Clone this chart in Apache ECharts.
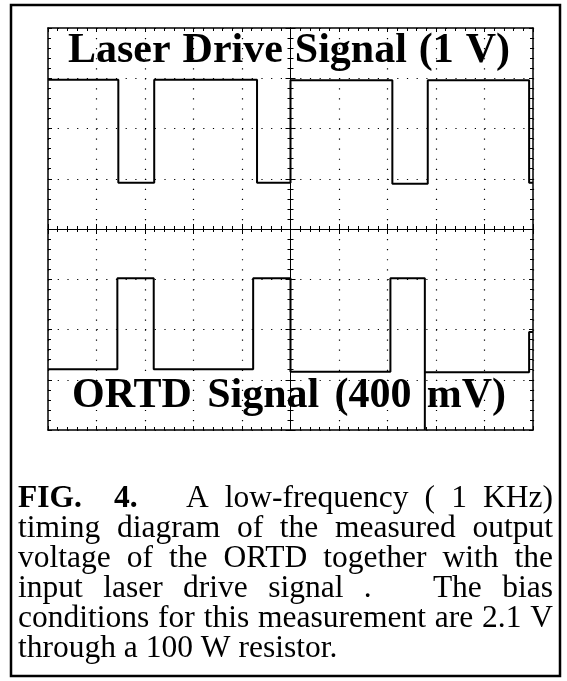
<!DOCTYPE html>
<html>
<head>
<meta charset="utf-8">
<script src="https://cdn.jsdelivr.net/npm/echarts@6/dist/echarts.min.js"></script>
<style>
  html, body { margin: 0; padding: 0; background: #fff; }
  #chart { width: 567px; height: 681px; }
</style>
</head>
<body>
<div id="chart"></div>
<script>
// scope screen: 10 x 8 divisions, centred on 0
const xRange = [-5, 5];
const yRange = [-4, 4];

// laser drive trace: segment edges (div) and the level held on each segment (div)
const laserEdges = [-5, -3.55, -2.81, -0.69, 0, 2.10, 2.83, 4.92, 5];
const laserLevels = [2.97, 0.92, 2.97, 0.92, 2.96, 0.90, 2.96, 0.92];

// ORTD trace, same layout (the zero-width segment is the drop to the screen bottom)
const ortdEdges = [-5, -3.57, -2.82, -0.77, 0, 2.06, 2.77, 2.77, 4.92, 5];
const ortdLevels = [-2.79, -0.98, -2.79, -0.98, -2.84, -0.98, -4, -2.85, -2.05];

const laserLabel = "Laser Drive Signal (1 V)";
const ortdLabel = "ORTD Signal (400 mV)";

// double spaces = wider gaps, as in the print
const captionLines = [
  "FIG.  4.   A low-frequency ( 1 KHz)",
  "timing diagram of the measured output",
  "voltage of the ORTD together with the",
  "input laser drive signal .   The bias",
  "conditions for this measurement are 2.1 V",
  "through a 100 W resistor."
];
const captionBold = ["FIG.", "4."];

const serif = "'Liberation Serif', 'Times New Roman', serif";
const measureCtx = document.createElement("canvas").getContext("2d");

function textWidth(font, s) {
  measureCtx.font = font;
  return measureCtx.measureText(s).width;
}

function stepPoints(edges, levels) {
  const pts = [];
  levels.forEach((lv, i) => {
    pts.push([edges[i], lv]);
    pts.push([edges[i + 1], lv]);
  });
  return pts;
}

// lay a line out word by word, spreading the gaps to fill x0..x1 when justified
function wordRow(text, x0, x1, baseline, size, justify, boldAll) {
  const tokens = text.split(" ");
  const words = [];
  let w = 1;
  tokens.forEach(t => {
    if (t === "") { w++; return; }
    words.push({ t: t, gap: words.length ? w : 0 });
    w = 1;
  });
  words.forEach(o => {
    o.font = (boldAll || captionBold.includes(o.t) ? "bold " : "") + size + "px " + serif;
    o.w = textWidth(o.font, o.t);
  });
  const sumW = words.reduce((a, o) => a + o.w, 0);
  const sumGap = words.reduce((a, o) => a + o.gap, 0);
  const unit = justify && sumGap > 0 ? (x1 - x0 - sumW) / sumGap : textWidth(words[0].font, " ");
  const midY = baseline - 0.29 * size;
  const els = [];
  let x = x0;
  words.forEach(o => {
    x += o.gap * unit;
    els.push({
      type: "text",
      x: x,
      y: midY,
      z: 10,
      style: { text: o.t, font: o.font, fill: "#000", align: "left", verticalAlign: "middle" }
    });
    x += o.w;
  });
  return els;
}

function scopeAxis(range, position, onZero, showSplit, dash) {
  const axis = {
    type: "value",
    min: range[0],
    max: range[1],
    interval: 1,
    position: position,
    axisLine: { show: true, onZero: onZero, lineStyle: { color: "#000", width: onZero ? 1 : 1.5 } },
    axisTick: { show: true, inside: true, length: onZero ? 5 : 4, lineStyle: { color: "#000", width: 1 } },
    minorTick: { show: true, splitNumber: 5, length: 3, lineStyle: { color: "#000", width: 1 } },
    axisLabel: { show: false },
    splitLine: { show: showSplit, lineStyle: { color: "#000", width: 1.2, type: dash } },
    minorSplitLine: { show: false }
  };
  if (onZero) axis.axisLine.onZeroAxisIndex = 0;
  return axis;
}

const chart = echarts.init(document.getElementById("chart"));

let graphics = [
  {
    type: "rect",
    shape: { x: 11, y: 5, width: 549, height: 671 },
    style: { fill: "none", stroke: "#000", lineWidth: 2.5 },
    z: 10
  }
];
graphics = graphics.concat(wordRow(laserLabel, 68, 510, 63, 42, true, true));
graphics = graphics.concat(wordRow(ortdLabel, 72, 506, 408, 42, true, true));
captionLines.forEach((line, i) => {
  graphics = graphics.concat(wordRow(line, 18, 553, 508 + i * 30, 31.5, i < captionLines.length - 1, false));
});

chart.setOption({
  animation: false,
  backgroundColor: "#fff",
  grid: { left: 48, top: 28, width: 485, height: 402, outerBoundsMode: "none" },
  xAxis: [
    scopeAxis(xRange, "bottom", false, true, [1.2, 8.85]),
    scopeAxis(xRange, "top", false, false),
    scopeAxis(xRange, "bottom", true, false),
    scopeAxis(xRange, "top", true, false)
  ],
  yAxis: [
    scopeAxis(yRange, "left", false, true, [1.2, 8.5]),
    scopeAxis(yRange, "right", false, false),
    scopeAxis(yRange, "left", true, false),
    scopeAxis(yRange, "right", true, false)
  ],
  series: [
    {
      name: "Laser Drive Signal",
      type: "line",
      data: stepPoints(laserEdges, laserLevels),
      showSymbol: false,
      lineStyle: { color: "#000", width: 2 },
      z: 5
    },
    {
      name: "ORTD Signal",
      type: "line",
      data: stepPoints(ortdEdges, ortdLevels),
      showSymbol: false,
      lineStyle: { color: "#000", width: 2 },
      z: 5
    }
  ],
  graphic: graphics
});
</script>
</body>
</html>
